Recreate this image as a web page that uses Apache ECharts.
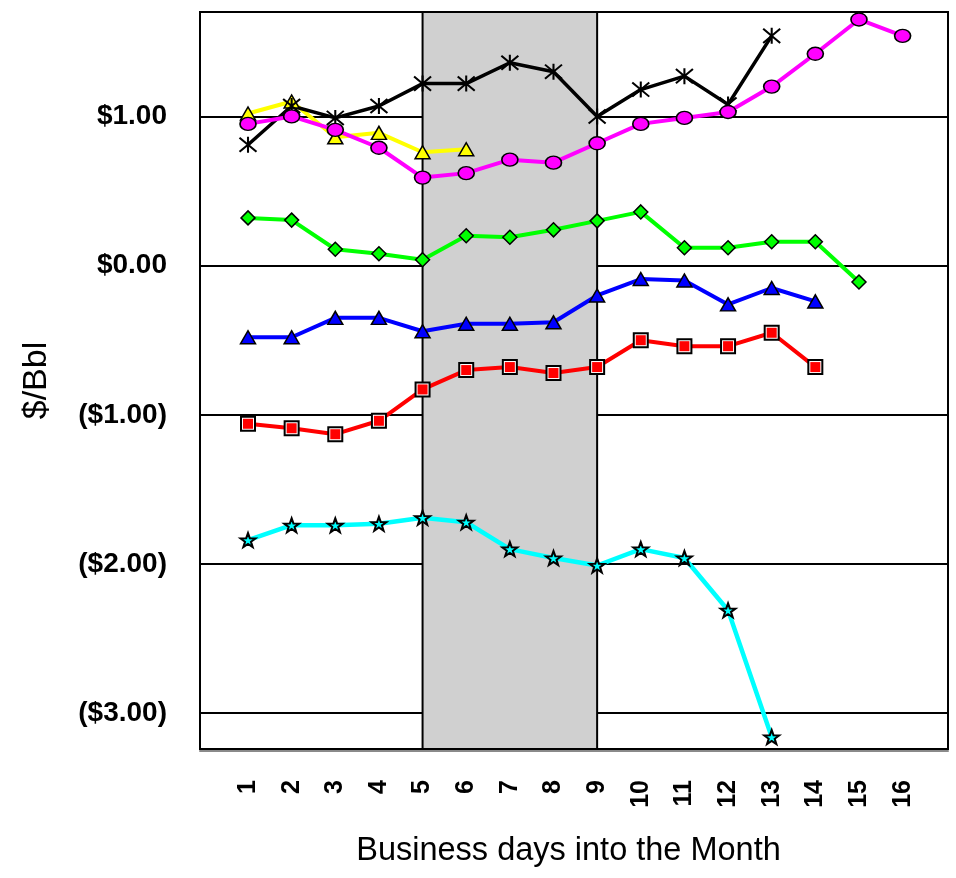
<!DOCTYPE html>
<html>
<head>
<meta charset="utf-8">
<title>$/Bbl by business day</title>
<script src="https://cdn.jsdelivr.net/npm/echarts@6/dist/echarts.min.js"></script>
<style>
  html, body { margin: 0; padding: 0; background: #fff; }
  #chart { width: 956px; height: 878px; }
</style>
</head>
<body>
<div id="chart"></div>
<script>
// Business days shown on the horizontal axis
const days = [1, 2, 3, 4, 5, 6, 7, 8, 9, 10, 11, 12, 13, 14, 15, 16];

// $/Bbl values per business day, one list per month series
const yellowValues  = [1.02, 1.10, 0.86, 0.89, 0.76, 0.78];
const blackValues   = [0.81, 1.07, 0.99, 1.07, 1.22, 1.22, 1.36, 1.30, 1.00, 1.18, 1.27, 1.08, 1.54];
const magentaValues = [0.95, 1.00, 0.91, 0.79, 0.59, 0.62, 0.71, 0.69, 0.82, 0.95, 0.99, 1.03, 1.20, 1.42, 1.65, 1.54];
const greenValues   = [0.32, 0.305, 0.11, 0.08, 0.04, 0.20, 0.19, 0.24, 0.30, 0.36, 0.12, 0.12, 0.16, 0.16, -0.11];
const blueValues    = [-0.48, -0.48, -0.35, -0.35, -0.44, -0.39, -0.39, -0.38, -0.20, -0.09, -0.10, -0.26, -0.15, -0.24];
const redValues     = [-1.06, -1.09, -1.13, -1.04, -0.83, -0.70, -0.68, -0.72, -0.68, -0.50, -0.54, -0.54, -0.45, -0.68];
const cyanValues    = [-1.84, -1.74, -1.74, -1.73, -1.69, -1.72, -1.90, -1.96, -2.01, -1.90, -1.96, -2.31, -3.16];

// Shaded window of business days
const shadedDays = [5, 9];

// Dollar values that get a labelled grid line
const yTickValues = [-3, -2, -1, 0, 1];

// Axis extents; fine tick steps so the integer ticks land on whole values
const X_MIN = -0.1, X_MAX = 17.04, X_STEP = 0.1;
const Y_MIN = -3.24, Y_MAX = 1.7, Y_STEP = 0.01;

const FONT = 'Liberation Sans, Arial, Helvetica, sans-serif';

function pairs(values) {
  return values.map((v, i) => [days[i], v]);
}

function isWhole(v) {
  return Math.abs(v - Math.round(v)) < 1e-6;
}

function money(v) {
  const s = '$' + Math.abs(v).toFixed(2);
  return v < 0 ? '(' + s + ')' : s;
}

// Split line colours cycle per tick: only ticks on whole dollars are drawn
const T = 'rgba(0,0,0,0)';
const perDollar = Math.round(1 / Y_STEP);
const firstWhole = Math.round((Math.ceil(Y_MIN) - Y_MIN) / Y_STEP);
const gridColors = Array.from({ length: perDollar }, (_, i) => (i === firstWhole % perDollar ? '#000' : T));

const ASTERISK = 'path://M0,0L16,15M16,0L0,15M8,-1L8,16';
const ELLIPSE = 'path://M0,6A6,6,0,1,1,12,6A6,6,0,1,1,0,6Z';
const STAR = 'path://M10,0L12.35,6.76L19.51,6.91L13.8,11.24L15.88,18.09L10,14L4.12,18.09L6.2,11.24L0.49,6.91L7.65,6.76Z';

function lineSeries(name, values, color, width, symbol, size, fill, extra) {
  return Object.assign({
    name: name,
    type: 'line',
    data: pairs(values),
    symbol: symbol,
    symbolSize: size,
    showAllSymbol: true,
    lineStyle: { color: color, width: width },
    itemStyle: { color: fill, borderColor: '#000', borderWidth: 1.5 },
    emphasis: { disabled: true },
    silent: true
  }, extra || {});
}

const option = {
  animation: false,
  backgroundColor: '#fff',
  grid: {
    left: 200, right: 8, top: 12, bottom: 129,
    show: true,
    backgroundColor: '#fff',
    borderColor: '#000',
    borderWidth: 2
  },
  xAxis: {
    type: 'value',
    min: X_MIN,
    max: X_MAX,
    interval: X_STEP,
    offset: 2,
    axisLine: { show: true, onZero: false, lineStyle: { color: '#8a8a8a', width: 2 } },
    axisTick: { show: false },
    splitLine: { show: false },
    axisLabel: {
      rotate: 90,
      margin: 29,
      fontSize: 25,
      fontWeight: 'bold',
      fontFamily: FONT,
      color: '#000',
      showMinLabel: false,
      showMaxLabel: false,
      formatter: v => {
        const r = Math.round(v);
        return (isWhole(v) && days.indexOf(r) >= 0) ? String(r) : '';
      }
    },
    name: 'Business days into the Month',
    nameLocation: 'middle',
    nameGap: 84,
    nameTextStyle: { fontSize: 32.5, fontFamily: FONT, color: '#000', padding: [0, 11, 0, 0] }
  },
  yAxis: {
    type: 'value',
    min: Y_MIN,
    max: Y_MAX,
    interval: Y_STEP,
    axisLine: { show: false },
    axisTick: { show: false },
    splitLine: {
      show: true,
      lineStyle: { color: gridColors, width: 2 }
    },
    axisLabel: {
      margin: 33,
      fontSize: 28,
      fontWeight: 'bold',
      fontFamily: FONT,
      color: '#000',
      showMinLabel: false,
      showMaxLabel: false,
      formatter: v => {
        const r = Math.round(v);
        return (isWhole(v) && yTickValues.indexOf(r) >= 0) ? money(r) : '';
      }
    },
    name: '$/Bbl',
    nameLocation: 'middle',
    nameGap: 146,
    nameRotate: 90,
    nameTextStyle: { fontSize: 34, fontFamily: FONT, color: '#000' }
  },
  series: [
    lineSeries('green', greenValues, '#00FF00', 4, 'diamond', 14, '#00FF00', {
      markArea: {
        silent: true,
        itemStyle: { color: '#D0D0D0', borderColor: '#000', borderWidth: 2 },
        data: [[{ xAxis: shadedDays[0] }, { xAxis: shadedDays[1] }]]
      }
    }),
    lineSeries('blue', blueValues, '#0000FF', 4, 'triangle', [15, 13], '#0000FF'),
    lineSeries('red', redValues, '#FF0000', 4, 'rect', 14, '#FFFFFF',
      { itemStyle: { color: '#FFFFFF', borderColor: '#000', borderWidth: 2 } }),
    lineSeries('red-core', redValues, '#FF0000', 0, 'rect', 10, '#FF0000',
      { lineStyle: { width: 0, opacity: 0 }, itemStyle: { color: '#FF0000', borderWidth: 0 } }),
    lineSeries('cyan', cyanValues, '#00FFFF', 4.5, STAR, [15, 14], '#00FFFF',
      { itemStyle: { color: '#00FFFF', borderColor: '#000', borderWidth: 2 } }),
    lineSeries('yellow', yellowValues, '#FFFF00', 4, 'triangle', [15, 13], '#FFFF00'),
    lineSeries('black', blackValues, '#000000', 3.5, ASTERISK, [17, 16], '#000',
      { itemStyle: { color: '#000', borderColor: '#000', borderWidth: 2 } }),
    lineSeries('magenta', magentaValues, '#FF00FF', 4, ELLIPSE, [16, 13], '#FF00FF')
  ]
};

const chart = echarts.init(document.getElementById('chart'), null, { renderer: 'canvas' });
chart.setOption(option);
</script>
</body>
</html>
